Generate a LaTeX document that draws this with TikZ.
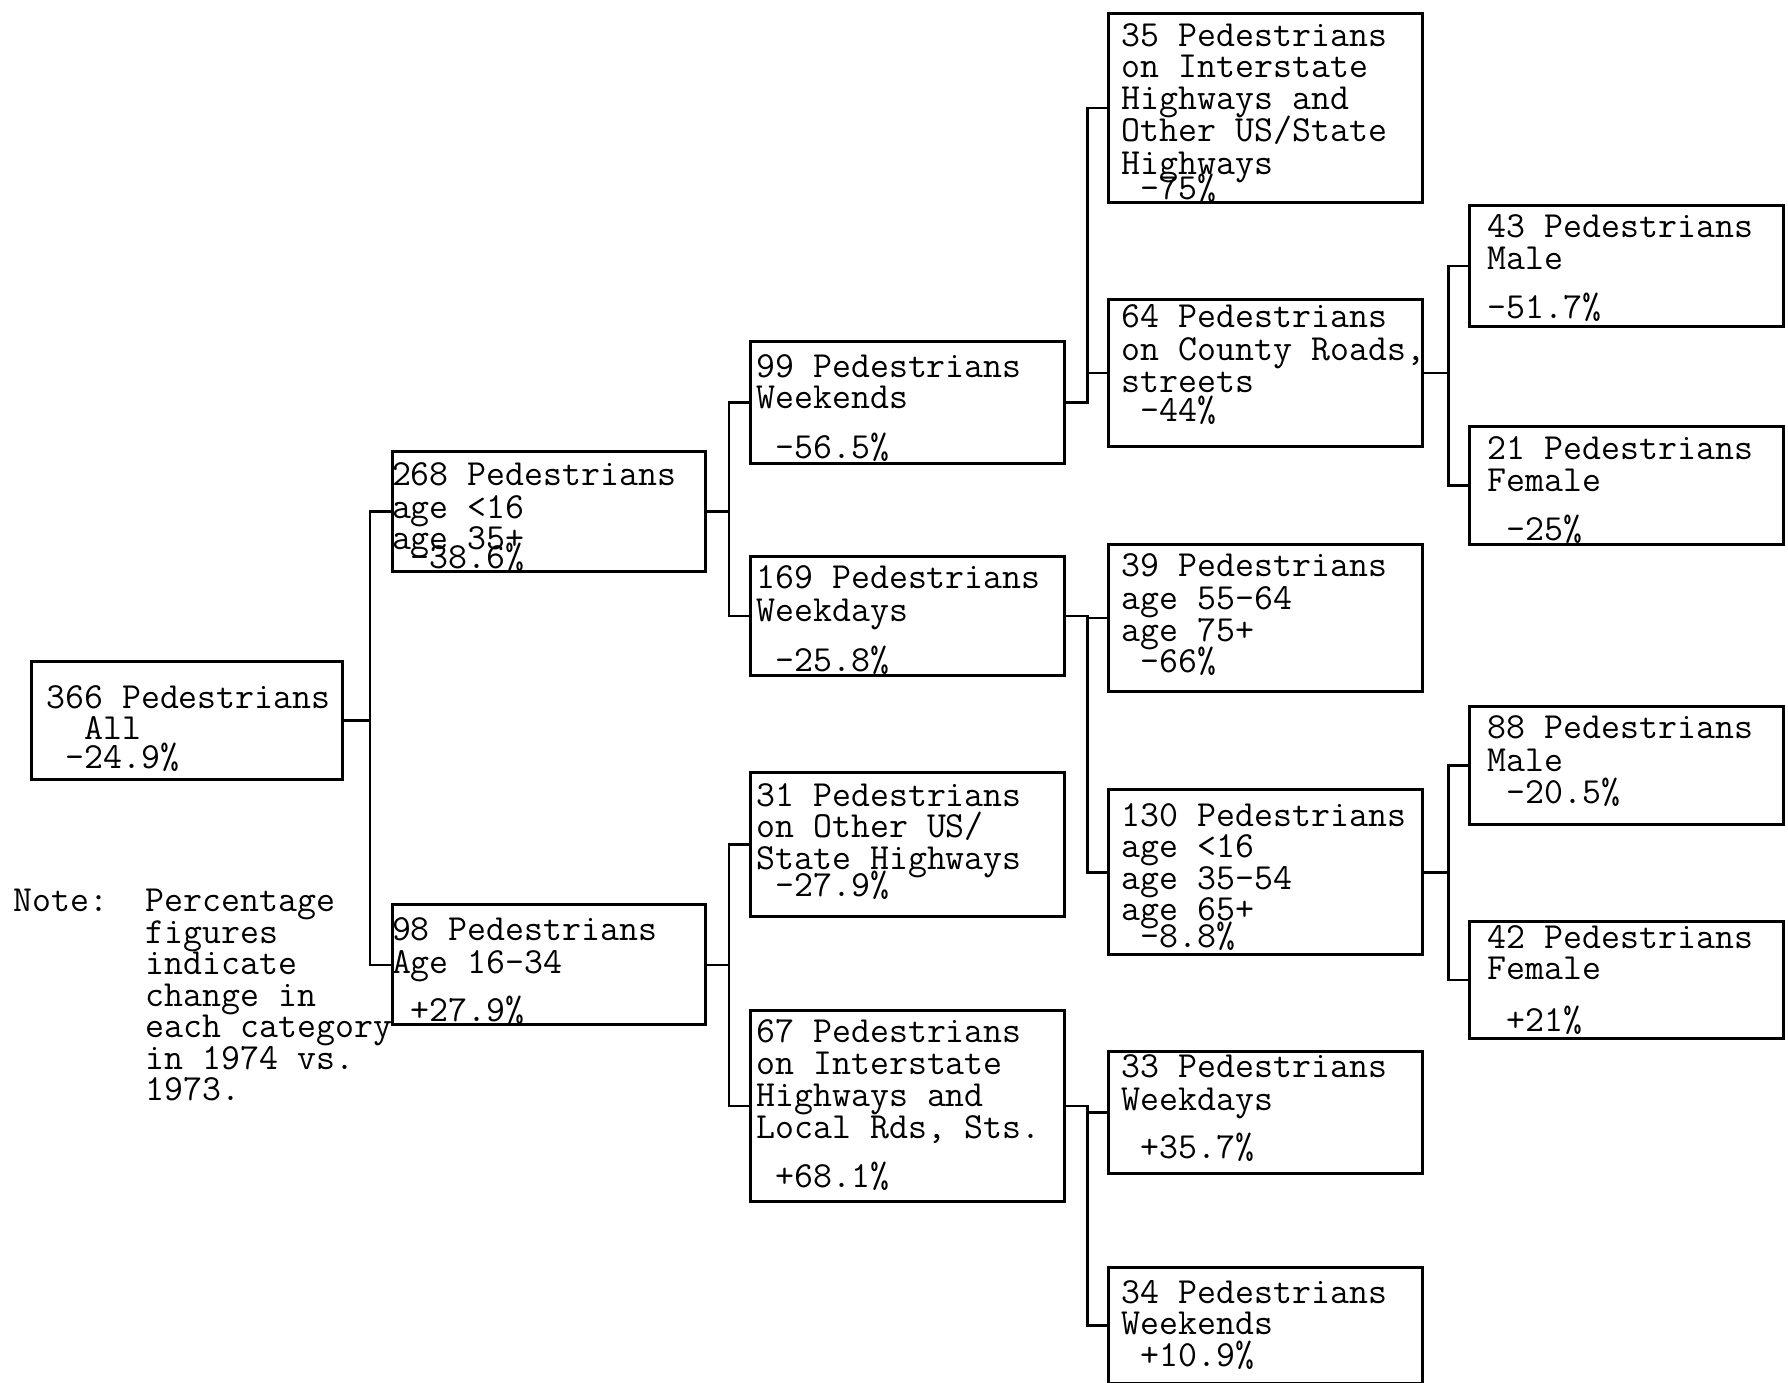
\documentclass[tikz,border=0pt]{standalone}
\usepackage{tikz}
\def\pedfont{\ttfamily\fontsize{18.4}{15.75}\selectfont\lineskiplimit=-100pt\relax}
\def\noteind{\hphantom{Note:~~}}

\begin{document}
\begin{tikzpicture}[x=0.5pt, y=-0.5pt,
	cell/.style={draw, line width=1.5pt, anchor=north west, inner sep=0pt, align=left, font=\pedfont},
	lead/.style={execute at begin node={\leftskip=#1\spaceskip=0pt\xspaceskip=0pt\lineskiplimit=-100pt\relax}},
	col0/.style={cell, text width=155.5pt, lead=7.45pt},
	col1/.style={cell, text width=156.5pt, lead=0pt},
	col2/.style={cell, text width=157pt, lead=3pt},
	col3/.style={cell, text width=156.75pt, lead=6.7pt},
	col4/.style={cell, text width=157pt, lead=9.15pt},
	note/.style={anchor=base west, inner sep=0pt, align=left, text width=210pt, font=\pedfont, lead=0pt},
	link/.style={line width=1.2pt}]
		%%%%% BOXES %%%%%
		\useasboundingbox (0,0) rectangle (1788,1382);
		
		\node[col0, text height=23.35pt, text depth=35.65pt] (n366) at (30,660) {366 Pedestrians\\~~All\\[-1.5pt]~-24.9\%};
		
		\node[col1, text height=17pt, text depth=43pt] (n268) at (390.5,450) {268 Pedestrians\\[0.6pt]age <16\\age 35+\\[-6.55pt]~-38.6\%};
		\node[col1, text height=18pt, text depth=42pt] (n98) at (390.5,903.3) {98 Pedestrians\\[0.45pt]Age 16-34\\[8.4pt]~+27.9\%};
		
		\node[col2, text height=18pt, text depth=42.85pt] (n99) at (749,340) {99 Pedestrians\\[-0.25pt]Weekends\\[9.25pt]~-56.5\%};
		\node[col2, text height=15.85pt, text depth=43.65pt] (n169) at (749,555) {169 Pedestrians\\[0.9pt]Weekdays\\[9.25pt]~-25.8\%};
		\node[col2, text height=17.15pt, text depth=55pt] (n31) at (749,770.7) {31 Pedestrians\\[-0.25pt]on Other US/\\[0.25pt]State Highways\\[-2.25pt]~-27.9\%};
		\node[col2, text height=15.85pt, text depth=79.5pt] (n67) at (749,1009.3) {67 Pedestrians\\[0.25pt]on Interstate\\[0.25pt]Highways and\\[0.25pt]Local Rds, Sts.\\[8.75pt]~+68.1\%};
		
		\node[col3, text height=16.4pt, text depth=78.25pt] (n35) at (1107,11.7) {35 Pedestrians\\on Interstate\\[0.25pt]Highways and\\Other US/State\\[0.75pt]Highways\\[-3.25pt]~-75\%};
		\node[col3, text height=14.15pt, text depth=59.5pt] (n64) at (1107,297.7) {64 Pedestrians\\[0.75pt]on~County~Roads,\\[0.25pt]streets\\[-1.25pt]~-44\%};
		\node[col3, text height=16.15pt, text depth=57.5pt] (n39) at (1107,542.7) {39 Pedestrians\\[0.9pt]age 55-64\\age 75+\\~-66\%};
		\node[col3, text height=18.1pt, text depth=64.4pt] (n130) at (1107,788.3) {130 Pedestrians\\[-0.25pt]age <16\\[0.25pt]age 35-54\\age 65+\\[-2.25pt]~-8.8\%};
		\node[col3, text height=13pt, text depth=47.85pt] (n33) at (1107,1050) {33 Pedestrians\\[0.5pt]Weekdays\\[8.5pt]~+35.7\%};
		\node[col3, text height=17.75pt, text depth=40.25pt] (n34) at (1107,1266) {34 Pedestrians\\[-0.25pt]Weekends\\[0.25pt]~+10.9\%};
		
		\node[col4, text height=15.6pt, text depth=44.75pt] (n43) at (1468,204.3) {43 Pedestrians\\[0.5pt]Male\\[8.75pt]-51.7\%};
		\node[col4, text height=16.65pt, text depth=42.5pt] (n21) at (1468,425) {21 Pedestrians\\[0.25pt]Female\\[8.5pt]~-25\%};
		\node[col4, text height=16pt, text depth=42.85pt] (n88) at (1468,705) {88 Pedestrians\\[0.5pt]Male\\[0.25pt]~-20.5\%};
		\node[col4, text height=13.35pt, text depth=45pt] (n42) at (1468,920) {42 Pedestrians\\Female\\[10.1pt]~+21\%};
		
		\node[note] (note) at (12.9,911.7) {Note:~~Percentage\\\noteind figures\\\noteind indicate\\\noteind change in\\\noteind each category\\\noteind in 1974 vs.\\\noteind 1973.};
		
		%%%%% LINKS %%%%%
		\draw[link] (n366.east) -- ++(26,0) |- (n268.west);
		\draw[link] (n366.east) -- ++(26,0) |- (n98.west);
		
		\draw[link] (n268.east) -- ++(22.5,0) |- (n99.west);
		\draw[link] (n268.east) -- ++(22.5,0) |- (n169.west);
		\draw[link] (n98.east) -- ++(22.5,0) |- (n31.west);
		\draw[link] (n98.east) -- ++(22.5,0) |- (n67.west);
		
		\draw[link] (n99.east) -- ++(21.5,0) |- (n35.west);
		\draw[link] (n99.east) -- ++(21.5,0) |- (n64.west);
		\draw[link] (n169.east) -- ++(21.5,0) |- (n39.west);
		\draw[link] (n169.east) -- ++(21.5,0) |- (n130.west);
		\draw[link] (n67.east) -- ++(21.5,0) |- (n33.west);
		\draw[link] (n67.east) -- ++(21.5,0) |- (n34.west);
		
		\draw[link] (n64.east) -- ++(25,0) |- (n43.west);
		\draw[link] (n64.east) -- ++(25,0) |- (n21.west);
		\draw[link] (n130.east) -- ++(25,0) |- (n88.west);
		\draw[link] (n130.east) -- ++(25,0) |- (n42.west);
		%%%%% END %%%%%
\end{tikzpicture}
\end{document}
